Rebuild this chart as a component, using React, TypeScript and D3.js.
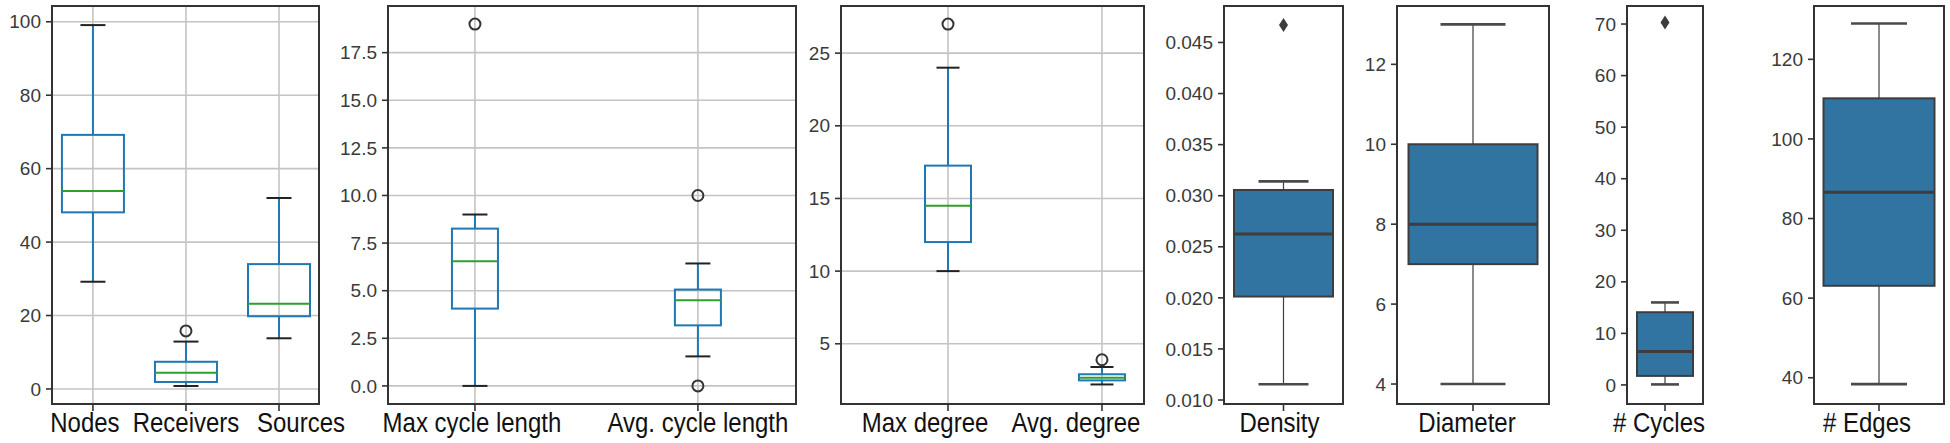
import React from "react";
import * as d3 from "d3";

// ---- data ----
// box stats are [low whisker, q1, median, q3, high whisker]
const sizeCats = ["Nodes", "Receivers", "Sources"];
const nodesBox = [29.2, 48.1, 53.9, 69.2, 99.1];
const receiversBox = [0.8, 1.9, 4.4, 7.4, 12.9];
const sourcesBox = [13.8, 19.8, 23.2, 34, 52];
const sizeOutliers = [[], [15.8], []];
const sizeTicks = [0, 20, 40, 60, 80, 100];

const cycleCats = ["Max cycle length", "Avg. cycle length"];
const maxCycleBox = [0, 4.06, 6.54, 8.26, 9.0];
const avgCycleBox = [1.55, 3.18, 4.5, 5.06, 6.43];
const cycleOutliers = [[19], [10, 0]];
const cycleTicks = [0, 2.5, 5, 7.5, 10, 12.5, 15, 17.5];

const degreeCats = ["Max degree", "Avg. degree"];
const maxDegreeBox = [10, 12, 14.5, 17.26, 24];
const avgDegreeBox = [2.2, 2.48, 2.67, 2.9, 3.4];
const degreeOutliers = [[27], [3.9]];
const degreeTicks = [5, 10, 15, 20, 25];

const densityBox = [0.01154, 0.02013, 0.02624, 0.03056, 0.0314];
const densityOutliers = [0.0467];
const densityTicks = [0.01, 0.015, 0.02, 0.025, 0.03, 0.035, 0.04, 0.045];

const diameterBox = [4, 7, 8, 10, 13];
const diameterTicks = [4, 6, 8, 10, 12];

const cyclesBox = [0.1, 1.75, 6.5, 14.1, 16];
const cyclesOutliers = [70.3];
const cyclesTicks = [0, 10, 20, 30, 40, 50, 60, 70];

const edgesBox = [38.4, 63.1, 86.6, 110.2, 129];
const edgesTicks = [40, 60, 80, 100, 120];

const W = 1950;
const H = 443;
const TOP = 6;
const BOTTOM = 404;
const tickFont = "'Liberation Sans', Arial, sans-serif";

type Panel = {
  kind: "pandas" | "seaborn";
  left: number;
  right: number;
  xDomain: [number, number];
  yDomain: [number, number];
  cats: string[];
  labelDx: number[];
  boxes: number[][];
  outliers: number[][];
  ticks: number[];
  fmt: (v: number) => string;
  boxW: number;
  capW: number;
};

const panels: Panel[] = [
  {
    kind: "pandas", left: 52, right: 319, xDomain: [-0.44, 2.43], yDomain: [-4.1, 104.3],
    cats: sizeCats, labelDx: [-8, 0, 22], boxes: [nodesBox, receiversBox, sourcesBox], outliers: sizeOutliers,
    ticks: sizeTicks, fmt: d3.format("d"), boxW: 62, capW: 25,
  },
  {
    kind: "pandas", left: 388, right: 796, xDomain: [-0.39, 1.44], yDomain: [-0.95, 19.95],
    cats: cycleCats, labelDx: [-3, 0], boxes: [maxCycleBox, avgCycleBox], outliers: cycleOutliers,
    ticks: cycleTicks, fmt: d3.format(".1f"), boxW: 46, capW: 25,
  },
  {
    kind: "pandas", left: 841, right: 1144, xDomain: [-0.695, 1.273], yDomain: [0.855, 28.245],
    cats: degreeCats, labelDx: [-23, -26], boxes: [maxDegreeBox, avgDegreeBox], outliers: degreeOutliers,
    ticks: degreeTicks, fmt: d3.format("d"), boxW: 46, capW: 23,
  },
  {
    kind: "seaborn", left: 1224, right: 1343, xDomain: [-0.5, 0.5], yDomain: [0.00961, 0.04857],
    cats: ["Density"], labelDx: [-4], boxes: [densityBox], outliers: [densityOutliers],
    ticks: densityTicks, fmt: d3.format(".3f"), boxW: 99, capW: 50,
  },
  {
    kind: "seaborn", left: 1397, right: 1549, xDomain: [-0.5, 0.5], yDomain: [3.5, 13.46],
    cats: ["Diameter"], labelDx: [-6], boxes: [diameterBox], outliers: [[]],
    ticks: diameterTicks, fmt: d3.format("d"), boxW: 129, capW: 65,
  },
  {
    kind: "seaborn", left: 1627, right: 1703, xDomain: [-0.5, 0.5], yDomain: [-3.7, 73.5],
    cats: ["# Cycles"], labelDx: [-6], boxes: [cyclesBox], outliers: [cyclesOutliers],
    ticks: cyclesTicks, fmt: d3.format("d"), boxW: 56, capW: 28,
  },
  {
    kind: "seaborn", left: 1814, right: 1944, xDomain: [-0.5, 0.5], yDomain: [33.4, 133.4],
    cats: ["# Edges"], labelDx: [-12], boxes: [edgesBox], outliers: [[]],
    ticks: edgesTicks, fmt: d3.format("d"), boxW: 111, capW: 56,
  },
];

function BoxPanel({ p }: { p: Panel }) {
  const x = d3.scaleLinear().domain(p.xDomain).range([p.left, p.right]);
  const y = d3.scaleLinear().domain(p.yDomain).range([BOTTOM, TOP]);
  const pandas = p.kind === "pandas";
  const line = pandas ? "#1f77b4" : "#3d3d3d";
  const cap = pandas ? "#222" : "#4a4a4a";
  return (
    <g>
      {pandas &&
        p.ticks.map((t) => (
          <line key={"gy" + t} x1={p.left} x2={p.right} y1={y(t)} y2={y(t)} stroke="#c4c4c4" strokeWidth={1.6} />
        ))}
      {pandas &&
        p.cats.map((c, i) => (
          <line key={"gx" + c} x1={x(i)} x2={x(i)} y1={TOP} y2={BOTTOM} stroke="#c4c4c4" strokeWidth={1.6} />
        ))}
      {p.boxes.map((b, i) => {
        const cx = x(i);
        const [lo, q1, med, q3, hi] = b;
        return (
          <g key={"b" + i}>
            <line x1={cx} x2={cx} y1={y(q3)} y2={y(hi)} stroke={line} strokeWidth={pandas ? 2 : 1.2} />
            <line x1={cx} x2={cx} y1={y(q1)} y2={y(lo)} stroke={line} strokeWidth={pandas ? 2 : 1.2} />
            <line x1={cx - p.capW / 2} x2={cx + p.capW / 2} y1={y(hi)} y2={y(hi)} stroke={cap} strokeWidth={pandas ? 2 : 2.6} />
            <line x1={cx - p.capW / 2} x2={cx + p.capW / 2} y1={y(lo)} y2={y(lo)} stroke={cap} strokeWidth={pandas ? 2 : 2.6} />
            <rect
              x={cx - p.boxW / 2}
              y={y(q3)}
              width={p.boxW}
              height={y(q1) - y(q3)}
              fill={pandas ? "none" : "#3274a1"}
              stroke={pandas ? "#1f77b4" : "#3d3d3d"}
              strokeWidth={2}
            />
            <line x1={cx - p.boxW / 2} x2={cx + p.boxW / 2} y1={y(med)} y2={y(med)} stroke={pandas ? "#2ca02c" : "#3d3d3d"} strokeWidth={pandas ? 2 : 3} />
            {p.outliers[i].map((o, k) =>
              pandas ? (
                <circle key={k} cx={cx} cy={y(o)} r={5.5} fill="none" stroke="#333" strokeWidth={2} />
              ) : (
                <path key={k} d={`M${cx},${y(o) - 7}L${cx + 4.5},${y(o)}L${cx},${y(o) + 7}L${cx - 4.5},${y(o)}Z`} fill="#3d3d3d" />
              )
            )}
          </g>
        );
      })}
      <rect x={p.left} y={TOP} width={p.right - p.left} height={BOTTOM - TOP} fill="none" stroke="#333" strokeWidth={2} />
      {p.ticks.map((t) => (
        <g key={"t" + t}>
          <line x1={p.left - 6} x2={p.left} y1={y(t)} y2={y(t)} stroke="#333" strokeWidth={1.6} />
          <text x={p.left - 11} y={y(t)} dy="0.35em" textAnchor="end" fontSize={19} fontFamily={tickFont} fill="#3a3a3a">
            {p.fmt(t)}
          </text>
        </g>
      ))}
      {p.cats.map((c, i) => (
        <g key={"c" + c}>
          <line x1={x(i)} x2={x(i)} y1={BOTTOM} y2={BOTTOM + 7} stroke="#333" strokeWidth={1.6} />
          <text
            transform={`translate(${x(i) + p.labelDx[i]},432) scale(1,1.12)`}
            textAnchor="middle"
            fontSize={24}
            fontFamily={tickFont}
            fill="#111"
          >
            {c}
          </text>
        </g>
      ))}
    </g>
  );
}

export default function App() {
  return (
    <svg width={W} height={H} style={{ position: "absolute", left: 0, top: 0, background: "#fff" }}>
      <rect width={W} height={H} fill="#fff" />
      {panels.map((p, i) => (
        <BoxPanel key={i} p={p} />
      ))}
    </svg>
  );
}
